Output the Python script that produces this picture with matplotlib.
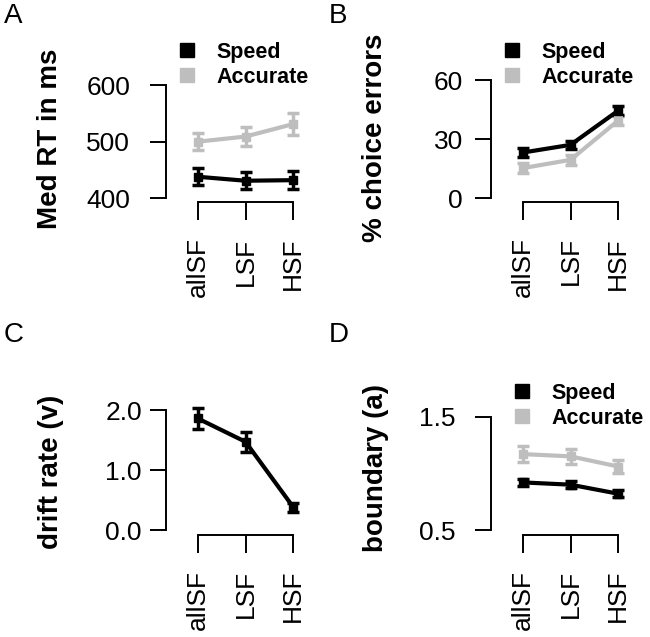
import matplotlib
matplotlib.use('Agg')
from matplotlib import pyplot as plt
from matplotlib.lines import Line2D

plt.rcParams['font.family'] = ['Liberation Sans', 'DejaVu Sans']

conditions = ['allSF', 'LSF', 'HSF']

# A: median RT
rt_speed = [438, 431, 432]
rt_speed_err = [15, 15, 16]
rt_acc = [500, 509, 531]
rt_acc_err = [15, 16, 19]

# B: % choice errors
err_speed = [23.2, 27.1, 44.5]
err_speed_err = [2.3, 2.2, 2.1]
err_acc = [15.3, 19.5, 39.5]
err_acc_err = [2.7, 2.5, 2.1]

# C: drift rate
drift = [1.86, 1.47, 0.38]
drift_err = [0.17, 0.17, 0.075]

# D: boundary
bound_speed = [0.92, 0.90, 0.82]
bound_speed_err = [0.03, 0.03, 0.032]
bound_acc = [1.17, 1.15, 1.06]
bound_acc_err = [0.069, 0.066, 0.06]

BLACK = '#000000'
GRAY = '#bebebe'

W, H = 650, 637
fig = plt.figure(figsize=(W / 100, H / 100), dpi=100)


def make_axes(spine_x, x0, x2, y_lo_px, y_hi_px, ylim, yticks, yticklabels,
              ypad, xoffset):
    # pixel geometry -> figure fractions
    ppu = (x2 - x0) / 2.0
    xmin = -(x0 - spine_x) / ppu
    xmax = 2.25
    right = x0 + xmax * ppu
    ax = fig.add_axes([spine_x / W, (H - y_lo_px) / H,
                       (right - spine_x) / W, (y_lo_px - y_hi_px) / H])
    ax.set_xlim(xmin, xmax)
    ax.set_ylim(*ylim)
    ax.patch.set_alpha(0)
    for s in ['top', 'right']:
        ax.spines[s].set_visible(False)
    ax.spines['left'].set_bounds(ylim[0], ylim[1])
    ax.spines['bottom'].set_bounds(0, 2)
    ax.spines['bottom'].set_position(('outward', xoffset * 0.72))
    for s in ['left', 'bottom']:
        ax.spines[s].set_linewidth(1.4)
    ax.set_xticks([0, 1, 2])
    ax.set_xticklabels(conditions, rotation=90, fontsize=19)
    ax.set_yticks(yticks)
    ax.set_yticklabels(yticklabels, fontsize=19)
    ax.tick_params(axis='y', length=11.3, width=1.4, pad=ypad)
    ax.tick_params(axis='x', length=13, width=1.4, pad=12.5)
    return ax


def draw_series(ax, y, yerr, color):
    ax.errorbar([0, 1, 2], y, yerr=yerr, color=color, lw=3, elinewidth=2.5,
                capsize=4, capthick=2.5, marker='s', ms=5.5, clip_on=False,
                zorder=3)


def add_legend(ax, x_px, y_px):
    handles = [Line2D([], [], ls='none', marker='s', ms=9.5, color=BLACK),
               Line2D([], [], ls='none', marker='s', ms=9.5, color=GRAY)]
    ax.legend(handles, ['Speed', 'Accurate'], loc='upper left',
              bbox_to_anchor=(x_px / W, 1 - y_px / H),
              bbox_transform=fig.transFigure, frameon=False,
              prop={'weight': 'bold', 'size': 15.5}, handlelength=0.8,
              handletextpad=1.0, labelspacing=0.18, borderpad=0,
              borderaxespad=0)


# Panel A
axA = make_axes(166, 198, 293, 198.3, 85, (400, 600), [400, 500, 600],
                ['400', '500', '600'], 14.4, 3.7)
draw_series(axA, rt_acc, rt_acc_err, GRAY)
draw_series(axA, rt_speed, rt_speed_err, BLACK)
add_legend(axA, 178, 42)

# Panel B
axB = make_axes(490.7, 522.7, 618.3, 198.3, 80, (0, 60), [0, 30, 60],
                ['0', '30', '60'], 8.6, 3.4)
draw_series(axB, err_acc, err_acc_err, GRAY)
draw_series(axB, err_speed, err_speed_err, BLACK)
add_legend(axB, 503, 42)

# Panel C
axC = make_axes(165.7, 197.7, 293.3, 530, 410, (0, 2), [0, 1, 2],
                ['0.0', '1.0', '2.0'], 5.8, 4.5)
draw_series(axC, drift, drift_err, BLACK)

# Panel D
axD = make_axes(490.7, 522.7, 618.3, 530, 416.7, (0.5, 1.5), [0.5, 1.5],
                ['0.5', '1.5'], 14.4, 4.5)
draw_series(axD, bound_acc, bound_acc_err, GRAY)
draw_series(axD, bound_speed, bound_speed_err, BLACK)
add_legend(axD, 513, 383)

# y labels
ylabels = [('Med RT in ms', 50, 139), ('% choice errors', 375, 138),
           ('drift rate (v)', 51, 472), ('boundary (a)', 376, 468)]
for txt, x, y in ylabels:
    fig.text(x / W, 1 - y / H, txt, rotation=90, ha='center', va='center',
             fontsize=20, fontweight='bold')

# panel letters
for letter, x, y in [('A', 4, 16), ('B', 329, 16), ('C', 4, 335), ('D', 329, 335)]:
    fig.text(x / W, 1 - y / H, letter, ha='left', va='center', fontsize=20)

fig.savefig('out.png', dpi=100)
